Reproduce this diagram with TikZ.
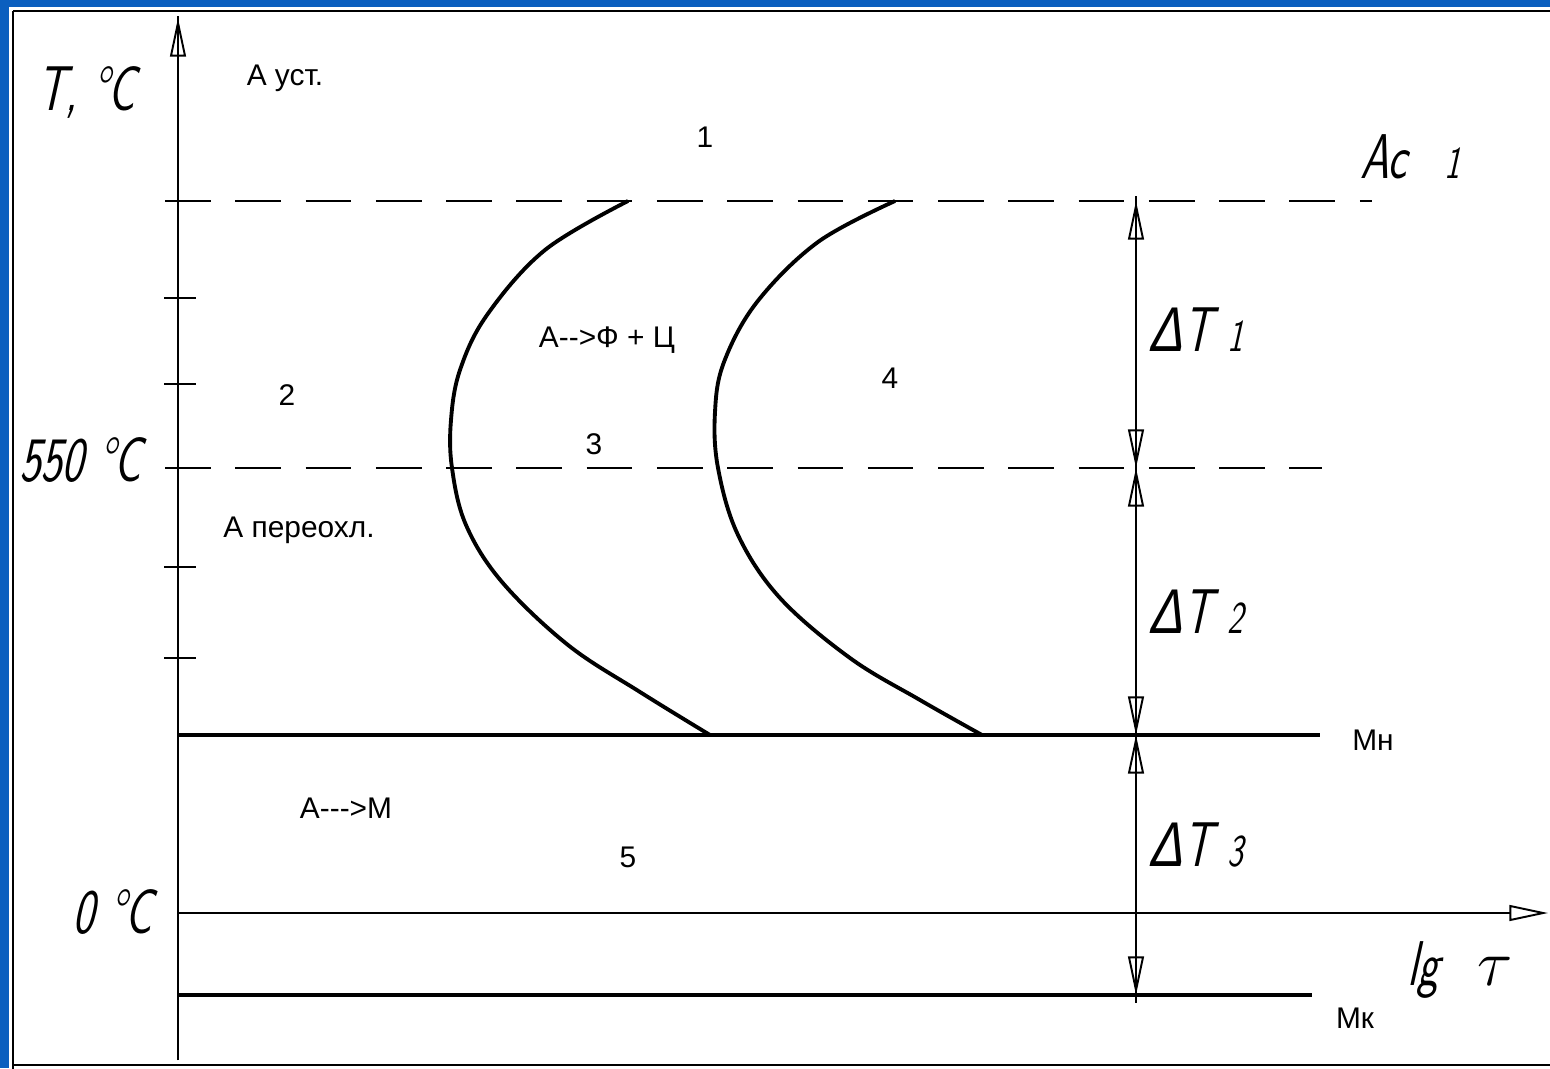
\documentclass[tikz,border=0pt]{standalone}
\usepackage{fontspec}
\setmainfont{Liberation Sans}
\newfontfamily\gost[FakeStretch=0.72,FakeSlant=0.22]{lmsans17-regular.otf}
\newfontfamily\gostgreek[FakeStretch=0.8,FakeSlant=0.22]{Liberation Sans}
\newcommand\dlt{{\gostgreek Δ}}
\newcommand\sub[1]{\hspace{0.25em}{\fontsize{26}{26}\selectfont #1}}
\usetikzlibrary{arrows.meta}
\definecolor{Slide}{HTML}{0B5FBF}

\begin{document}
\begin{tikzpicture}[x=0.02cm,y=-0.02cm,font=\fontsize{17}{20}\selectfont,
    >={Triangle[open,length=22pt,width=9pt]},
    hand/.style={font=\gost\fontsize{36}{38}\selectfont},
    dashline/.style={line width=1.6pt,dash pattern=on 26pt off 14pt},
    mline/.style={line width=2.8pt},
    curve/.style={line width=2.2pt},
    axis/.style={line width=1.1pt}]
    \useasboundingbox (0,0) rectangle (1550,1068);
    % slide background and frame
    \fill[Slide] (0,0) rectangle (1550,1068);
    \fill[white] (9,7) rectangle (1550,1068);
    \draw[line width=1.3pt] (13,11) -- (1560,11);
    \draw[line width=1.3pt] (13,1075) -- (13,11);
    \draw[line width=1.3pt] (13,1065) -- (1560,1065);

    \coordinate (origin) at (178,913);
    \coordinate (ytop) at (178,16);
    \coordinate (yarrow) at (178,18);
    \coordinate (ybot) at (178,1060);
    \coordinate (xend) at (1548,913);
    \coordinate (acL) at (165,201);
    \coordinate (acR) at (1372,201);
    \coordinate (tL) at (165,468);
    \coordinate (tR) at (1322,468);
    \coordinate (mnL) at (178,735);
    \coordinate (mnR) at (1320,735);
    \coordinate (mkL) at (178,995);
    \coordinate (mkR) at (1312,995);
    \coordinate (d1) at (1136,201);
    \coordinate (d2) at (1136,468);
    \coordinate (d3) at (1136,735);
    \coordinate (d4) at (1136,995);

    % axes
    \draw[axis] (ybot) -- (ytop);
    \draw[axis,->] (ybot) -- (yarrow);
    \draw[axis,->] (origin) -- (xend);
    \foreach \y in {298,384,567,658}{\draw[axis] (164,\y) -- (196,\y);}

    % critical lines
    \draw[dashline] (acL) -- (acR);
    \draw[dashline] (tL) -- (tR);
    \draw[mline] (mnL) -- (mnR);
    \draw[mline] (mkL) -- (mkR);

    % C-curves
    \draw[curve] plot[smooth,tension=0.6] coordinates {(628,201) (545,250) (487,315) (460,370) (451,420) (452,468) (466,525) (502,582) (568,645) (640,692) (710,735)};
    \draw[curve] plot[smooth,tension=0.6] coordinates {(895,201) (818,242) (757,302) (724,362) (715,412) (718,468) (738,535) (780,598) (850,658) (920,700) (982,735)};

    % temperature intervals
    \draw[axis] (1136,196) -- (1136,1003);
    \foreach \a/\b in {d1/d2,d2/d3,d3/d4}{\draw[axis,<->] (\a) -- (\b);}

    % labels
    \node[hand] (tlabel) at (86,92) {T, °C};
    \node[hand] (t550) at (80,460) {550 °C};
    \node[hand] (t0) at (112,912) {0 °C};
    \node[hand] (ac1) at (1410,157) {Ac\hspace{0.35em}\sub{1}};
    \node[hand] (dt1) at (1196,330) {\dlt T\sub{1}};
    \node[hand] (dt2) at (1196,612) {\dlt T\sub{2}};
    \node[hand] (dt3) at (1196,845) {\dlt T\sub{3}};
    \node[hand] (lgtau) at (1460,970) {lg\hspace{0.6em}\scalebox{1.5}{$\tau$}};
    \node (austst) at (285,78) {А уст.};
    \node (aper) at (299,530) {А переохл.};
    \node (afc) at (607,340) {А-{}-{}>Ф + Ц};
    \node (am) at (346,808) {А-{}-{}-{}>М};
    \node (mn) at (1373,740) {Мн};
    \node (mk) at (1355,1018) {Мк};
    \node (r1) at (705,137) {1};
    \node (r2) at (287,395) {2};
    \node (r3) at (594,444) {3};
    \node (r4) at (890,378) {4};
    \node (r5) at (628,857) {5};
\end{tikzpicture}
\end{document}
